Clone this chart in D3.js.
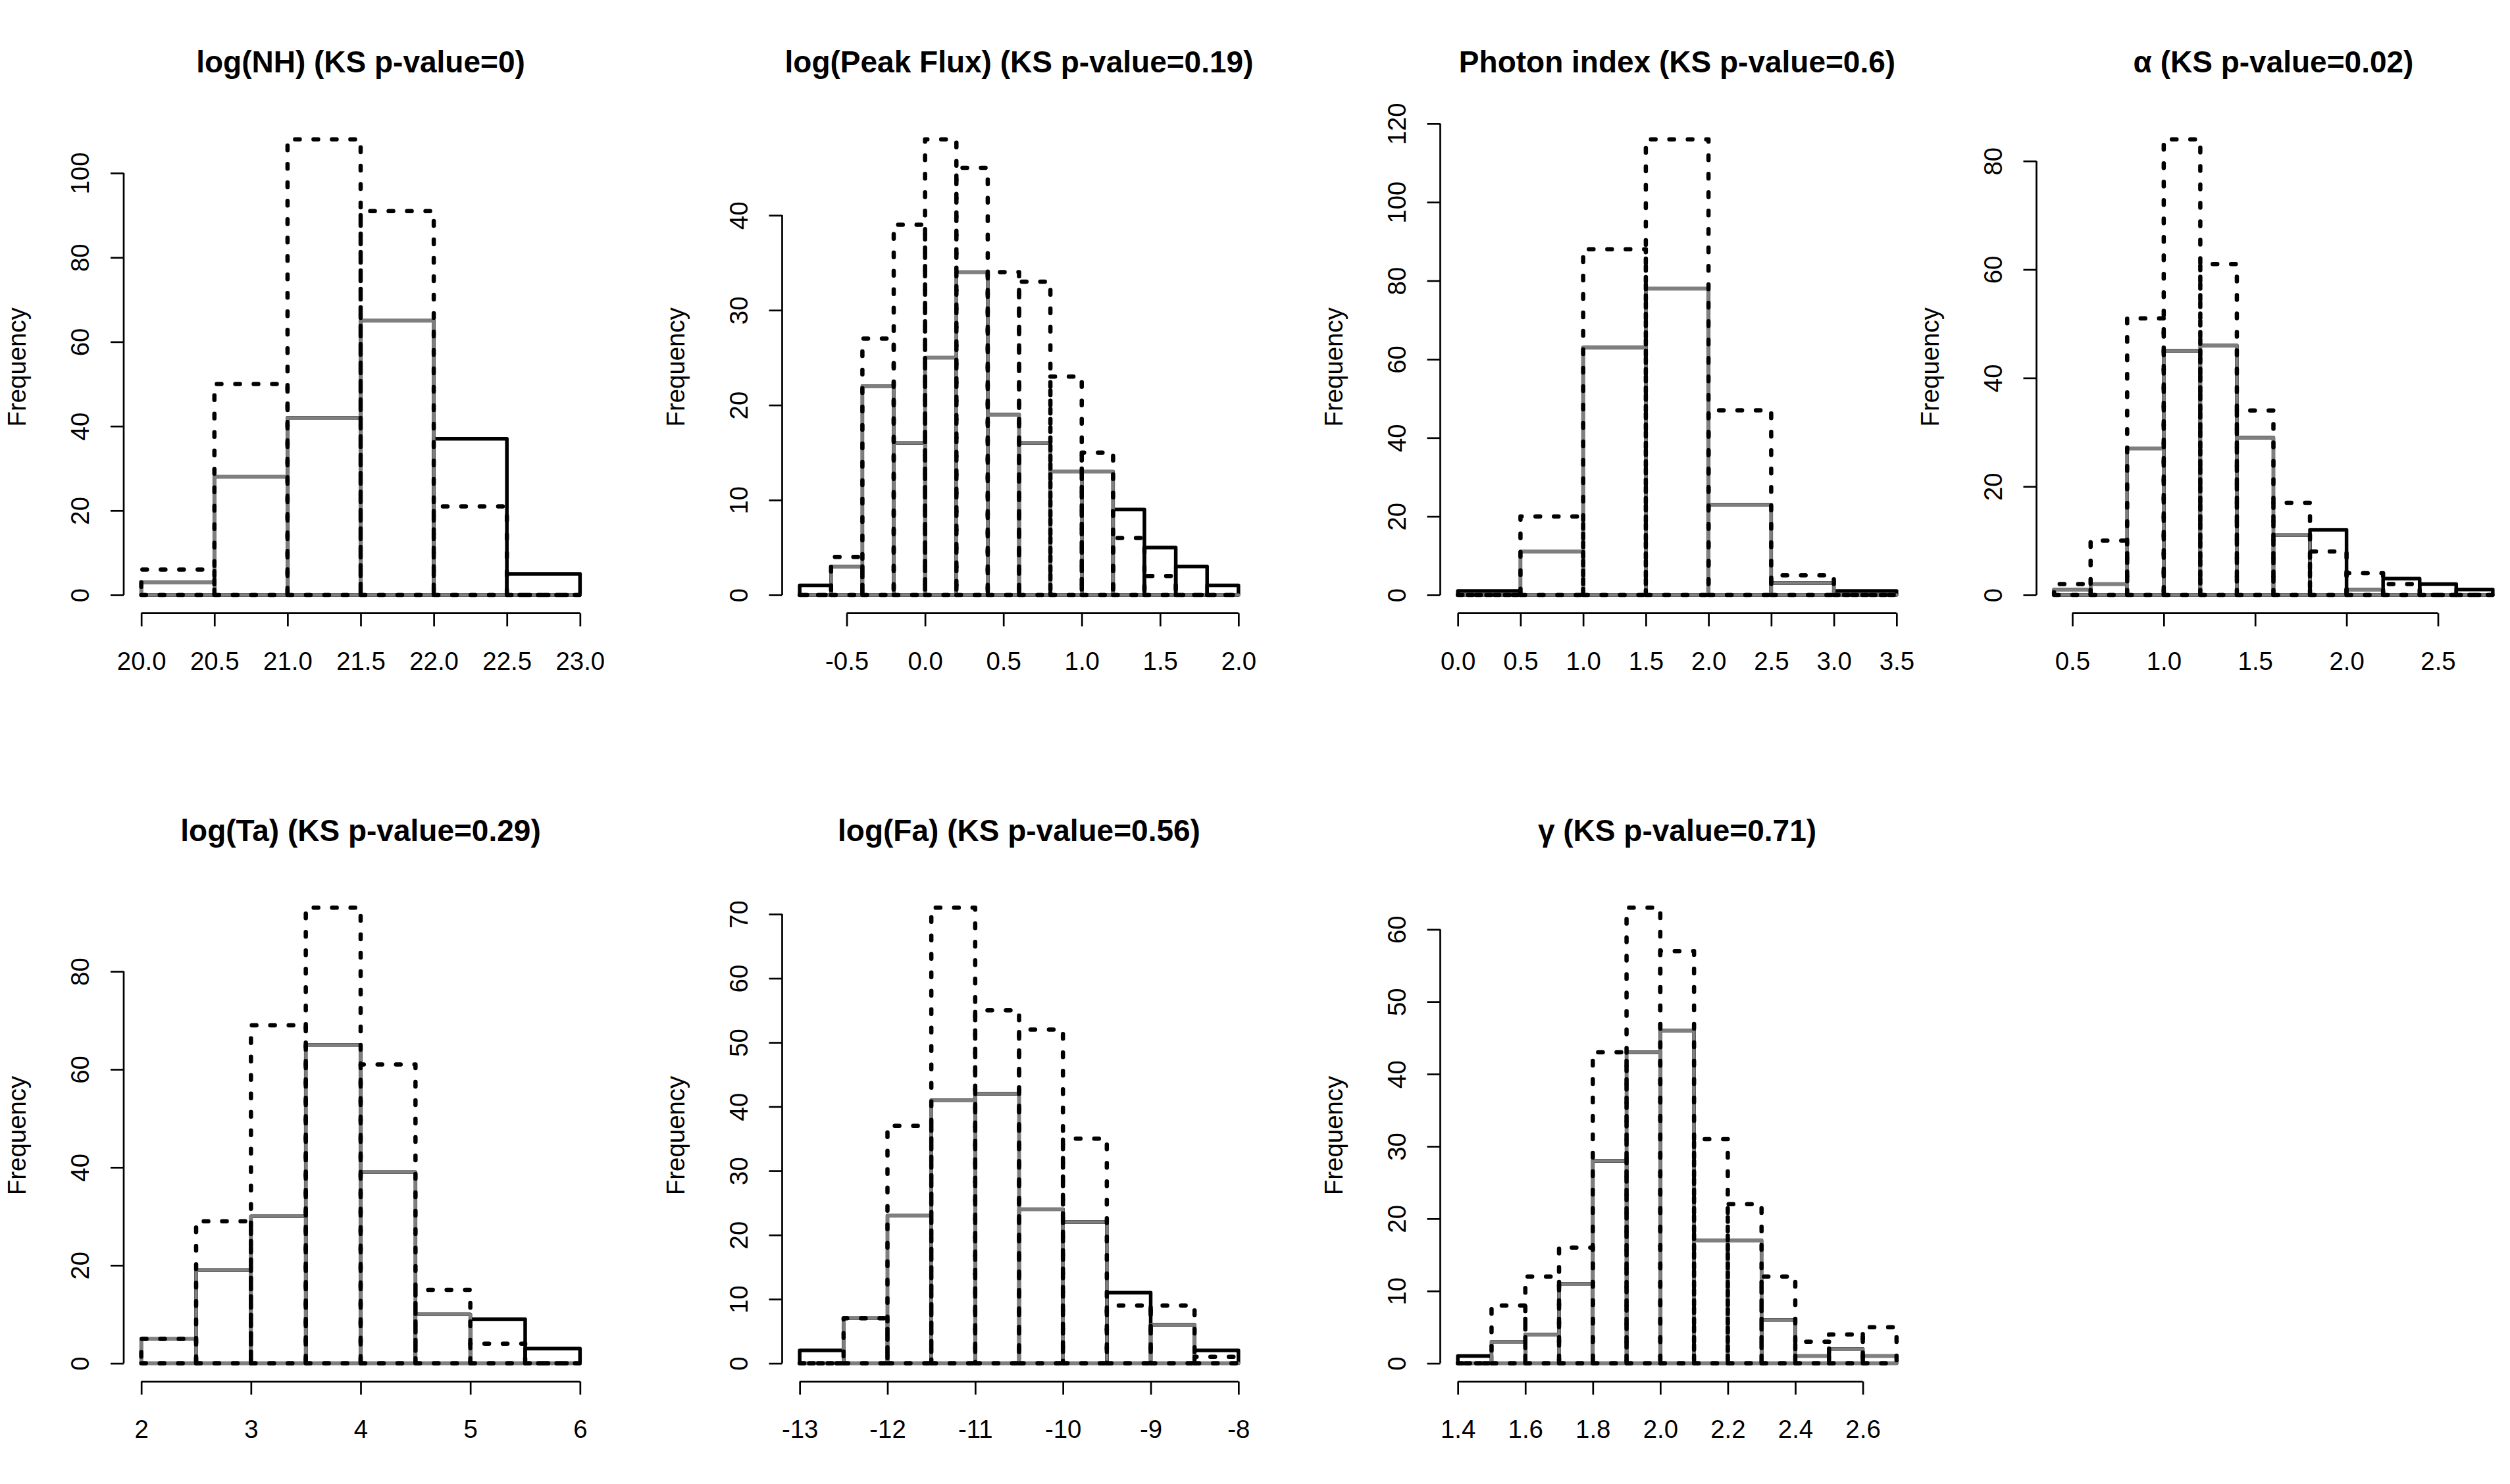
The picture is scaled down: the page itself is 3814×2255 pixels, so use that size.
<!DOCTYPE html>
<html>
<head>
<meta charset="utf-8">
<title>KS histograms</title>
<style>
  body { margin: 0; background: #fff; }
  svg { display: block; font-family: "Liberation Sans", Arial, sans-serif; }
</style>
</head>
<body>
<svg id="chart" width="3814" height="2255"></svg>
<script src="https://d3js.org/d3.v7.min.js"></script>
<script>
// counts: black = solid, gray = grey border, dashed = dashed black
const nhBreaks = [20, 20.5, 21, 21.5, 22, 22.5, 23];
const nhBlack  = [3, 28, 42, 65, 37, 5];
const nhGray   = [3, 28, 42, 65, 0, 0];
const nhDashed = [6, 50, 108, 91, 21, 0];
const nhYTicks = [0, 20, 40, 60, 80, 100];
const nhXTicks = [20, 20.5, 21, 21.5, 22, 22.5, 23];

const pfBreaks = [-0.8, -0.6, -0.4, -0.2, 0, 0.2, 0.4, 0.6, 0.8, 1.0, 1.2, 1.4, 1.6, 1.8, 2.0];
const pfBlack  = [1, 3, 22, 16, 25, 34, 19, 16, 13, 13, 9, 5, 3, 1];
const pfGray   = [0, 3, 22, 16, 25, 34, 19, 16, 13, 13, 0, 0, 0, 0];
const pfDashed = [0, 4, 27, 39, 48, 45, 34, 33, 23, 15, 6, 2, 0, 0];
const pfYTicks = [0, 10, 20, 30, 40];
const pfXTicks = [-0.5, 0, 0.5, 1, 1.5, 2];

const phBreaks = [0, 0.5, 1, 1.5, 2, 2.5, 3, 3.5];
const phBlack  = [1, 11, 63, 78, 23, 3, 1];
const phGray   = [0, 11, 63, 78, 23, 3, 0];
const phDashed = [0, 20, 88, 116, 47, 5, 0];
const phYTicks = [0, 20, 40, 60, 80, 100, 120];
const phXTicks = [0, 0.5, 1, 1.5, 2, 2.5, 3, 3.5];

const alBreaks = [0.4, 0.6, 0.8, 1.0, 1.2, 1.4, 1.6, 1.8, 2.0, 2.2, 2.4, 2.6, 2.8];
const alBlack  = [1, 2, 27, 45, 46, 29, 11, 12, 1, 3, 2, 1];
const alGray   = [1, 2, 27, 45, 46, 29, 11, 0, 1, 0, 0, 0];
const alDashed = [2, 10, 51, 84, 61, 34, 17, 8, 4, 2, 0, 0];
const alYTicks = [0, 20, 40, 60, 80];
const alXTicks = [0.5, 1, 1.5, 2, 2.5];

const taBreaks = [2, 2.5, 3, 3.5, 4, 4.5, 5, 5.5, 6];
const taBlack  = [5, 19, 30, 65, 39, 10, 9, 3];
const taGray   = [5, 19, 30, 65, 39, 10, 0, 0];
const taDashed = [5, 29, 69, 93, 61, 15, 4, 0];
const taYTicks = [0, 20, 40, 60, 80];
const taXTicks = [2, 3, 4, 5, 6];

const faBreaks = [-13, -12.5, -12, -11.5, -11, -10.5, -10, -9.5, -9, -8.5, -8];
const faBlack  = [2, 7, 23, 41, 42, 24, 22, 11, 6, 2];
const faGray   = [0, 7, 23, 41, 42, 24, 22, 0, 6, 0];
const faDashed = [0, 7, 37, 71, 55, 52, 35, 9, 9, 1];
const faYTicks = [0, 10, 20, 30, 40, 50, 60, 70];
const faXTicks = [-13, -12, -11, -10, -9, -8];

const gaBreaks = [1.4, 1.5, 1.6, 1.7, 1.8, 1.9, 2.0, 2.1, 2.2, 2.3, 2.4, 2.5, 2.6, 2.7];
const gaBlack  = [1, 3, 4, 11, 28, 43, 46, 17, 17, 6, 1, 2, 1];
const gaGray   = [0, 3, 4, 11, 28, 43, 46, 17, 17, 6, 1, 2, 1];
const gaDashed = [0, 8, 12, 16, 43, 63, 57, 31, 22, 12, 3, 4, 5];
const gaYTicks = [0, 10, 20, 30, 40, 50, 60];
const gaXTicks = [1.4, 1.6, 1.8, 2.0, 2.2, 2.4, 2.6];

const panels = [
  {title: "log(NH) (KS p-value=0)", breaks: nhBreaks, black: nhBlack, gray: nhGray, dashed: nhDashed, yTicks: nhYTicks, xTicks: nhXTicks, digits: 1},
  {title: "log(Peak Flux) (KS p-value=0.19)", breaks: pfBreaks, black: pfBlack, gray: pfGray, dashed: pfDashed, yTicks: pfYTicks, xTicks: pfXTicks, digits: 1},
  {title: "Photon index (KS p-value=0.6)", breaks: phBreaks, black: phBlack, gray: phGray, dashed: phDashed, yTicks: phYTicks, xTicks: phXTicks, digits: 1},
  {title: "α (KS p-value=0.02)", breaks: alBreaks, black: alBlack, gray: alGray, dashed: alDashed, yTicks: alYTicks, xTicks: alXTicks, digits: 1},
  {title: "log(Ta) (KS p-value=0.29)", breaks: taBreaks, black: taBlack, gray: taGray, dashed: taDashed, yTicks: taYTicks, xTicks: taXTicks, digits: 0},
  {title: "log(Fa) (KS p-value=0.56)", breaks: faBreaks, black: faBlack, gray: faGray, dashed: faDashed, yTicks: faYTicks, xTicks: faXTicks, digits: 0},
  {title: "γ (KS p-value=0.71)", breaks: gaBreaks, black: gaBlack, gray: gaGray, dashed: gaDashed, yTicks: gaYTicks, xTicks: gaXTicks, digits: 1}
];

// layout (plot regions, px)
const colX = [188, 1188.5, 2188.5, 3094.5];
const rowY = [184, 1351.6];
const cells = [[0, 0], [0, 1], [0, 2], [0, 3], [1, 0], [1, 1], [1, 2]];
const plotW = 720, plotH = 747.7;
const tickLen = 20, axisW = 2.7;

const svg = d3.select("#chart");
svg.append("rect").attr("width", 3814).attr("height", 2255).attr("fill", "#fff");

const styles = {
  black:  {stroke: "#000", width: 5.5, dash: null},
  gray:   {stroke: "#7f7f7f", width: 5, dash: null},
  dashed: {stroke: "#000", width: 6.5, dash: "7 21"}
};

panels.forEach((p, i) => {
  const [r, c] = cells[i];
  const g = svg.append("g").attr("transform", `translate(${colX[c]},${rowY[r]})`);

  const lo = p.breaks[0], hi = p.breaks[p.breaks.length - 1];
  const pad = (hi - lo) * 0.04;
  const x = d3.scaleLinear().domain([lo - pad, hi + pad]).range([0, plotW]);
  const ymax = d3.max([...p.black, ...p.gray, ...p.dashed]);
  const y = d3.scaleLinear().domain([-0.04 * ymax, 1.04 * ymax]).range([plotH, 0]);

  // histograms: black, then gray, then dashed on top
  ["black", "gray", "dashed"].forEach(key => {
    const st = styles[key];
    const bins = p[key].map((v, j) => ({x0: p.breaks[j], x1: p.breaks[j + 1], v}));
    g.append("g")
      .selectAll("path")
      .data(bins)
      .enter().append("path")
      .attr("d", d => `M${x(d.x0)},${y(0)}H${x(d.x1)}V${y(d.v)}H${x(d.x0)}Z`)
      .attr("fill", "none")
      .attr("stroke", st.stroke)
      .attr("stroke-width", st.width)
      .attr("stroke-linejoin", "round")
      .attr("stroke-linecap", "round")
      .attr("stroke-dasharray", st.dash);
  });

  // x axis
  const gx = g.append("g")
    .attr("transform", `translate(0,${plotH})`)
    .call(d3.axisBottom(x).tickValues(p.xTicks).tickFormat(d => d.toFixed(p.digits)).tickSize(tickLen).tickSizeOuter(0))
    .attr("font-size", null).attr("font-family", null);
  gx.select(".domain").remove();
  gx.append("line")
    .attr("x1", x(p.xTicks[0])).attr("x2", x(p.xTicks[p.xTicks.length - 1]))
    .attr("stroke", "#000").attr("stroke-width", axisW);
  gx.selectAll(".tick line").attr("stroke", "#000").attr("stroke-width", axisW);
  gx.selectAll(".tick text")
    .attr("y", 86).attr("dy", null)
    .attr("font-size", 38.4).attr("fill", "#000");

  // y axis, labels parallel to the axis
  const gy = g.append("g")
    .call(d3.axisLeft(y).tickValues(p.yTicks).tickFormat(d => String(d)).tickSize(tickLen).tickSizeOuter(0))
    .attr("font-size", null).attr("font-family", null);
  gy.select(".domain").remove();
  gy.append("line")
    .attr("y1", y(p.yTicks[0])).attr("y2", y(p.yTicks[p.yTicks.length - 1]))
    .attr("stroke", "#000").attr("stroke-width", axisW);
  gy.selectAll(".tick line").attr("stroke", "#000").attr("stroke-width", axisW);
  gy.selectAll(".tick text")
    .attr("x", null).attr("dy", null)
    .attr("transform", "translate(-53,0) rotate(-90)")
    .attr("text-anchor", "middle")
    .attr("font-size", 38.4).attr("fill", "#000");

  // axis title and main title
  g.append("text")
    .attr("transform", `translate(-149,${plotH / 2}) rotate(-90)`)
    .attr("text-anchor", "middle")
    .attr("font-size", 38.4)
    .text("Frequency");

  g.append("text")
    .attr("x", plotW / 2).attr("y", -74)
    .attr("text-anchor", "middle")
    .attr("font-size", 46).attr("font-weight", "bold")
    .text(p.title);
});
</script>
</body>
</html>
